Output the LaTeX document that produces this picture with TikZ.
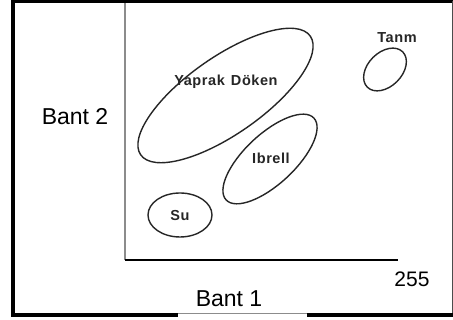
\documentclass[tikz,border=0pt]{standalone}
\usepackage{fontspec}
\setmainfont{Liberation Sans}
\newfontfamily\labelfont[LetterSpace=4]{Liberation Sans}
\usetikzlibrary{shapes.geometric}
\begin{document}
\begin{tikzpicture}[x=1pt,y=1pt,
  cluster/.style={draw=black!85,line width=1.4pt,ellipse,inner sep=0pt},
  classlabel/.style={font=\labelfont\fontsize{14.5}{16}\selectfont\bfseries,text=black!85,inner sep=0pt},
  axislabel/.style={font=\fontsize{23}{26}\selectfont,inner sep=0pt},
  framethick/.style={line width=3.5pt,black}]
\useasboundingbox (0,0) rectangle (453,320);
\fill[white] (0,0) rectangle (453,320);

% outer frame
\draw[framethick] (13,5) -- (13,318.5) -- (453,318.5);
\draw[line width=1pt,black!70] (452.5,318.5) -- (452.5,5);
\draw[framethick] (11.3,5) -- (178,5);
\draw[framethick] (307,5) -- (453,5);
\draw[line width=0.8pt,black!45] (178,6.5) -- (307,6.5);

% axes
\coordinate (origin) at (124.5,60);
\coordinate (ytop) at (124.5,317);
\coordinate (xend) at (398,60);
\draw[line width=2pt,black!45] (origin) -- (ytop);
\draw[line width=1.5pt,black] (origin) -- (xend);

% axis labels
\node[axislabel] (b2) at (75,203) {Bant 2};
\node[axislabel] (b1) at (229,21) {Bant 1};
\node[font=\fontsize{21}{24}\selectfont,inner sep=0pt] (max) at (412,41) {255};

% class clusters
\node[cluster,minimum width=207pt,minimum height=77pt,rotate=35] (yaprak) at (225.5,224.5) {};
\node[cluster,minimum width=120pt,minimum height=50pt,rotate=43] (ibreli) at (270,161) {};
\node[cluster,minimum width=64pt,minimum height=44pt] (su) at (180,105) {};
\node[cluster,minimum width=50pt,minimum height=34pt,rotate=45] (tarim) at (385,250.5) {};

% class names
\node[classlabel] (lyaprak) at (226,238) {Yaprak\hspace{1.5pt} Döken};
\node[classlabel] (libreli) at (271,162) {Ibrell};
\node[classlabel] (ltarim) at (397,282) {Tanm};
\node[classlabel] (lsu) at (180,104) {Su};
\end{tikzpicture}
\end{document}
